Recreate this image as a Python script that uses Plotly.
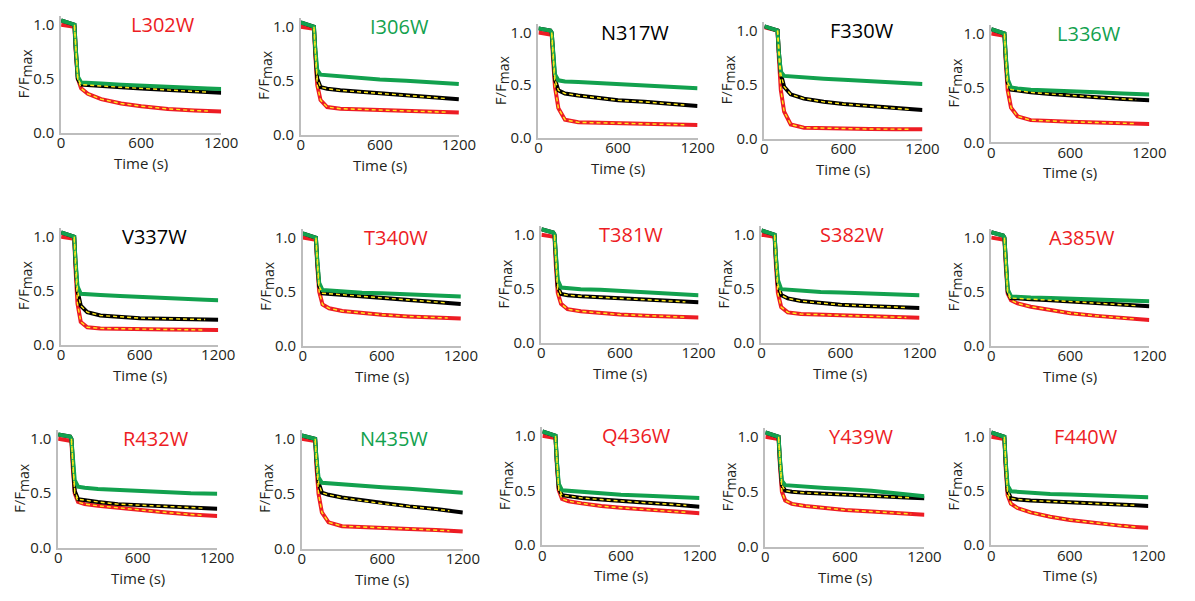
import plotly.graph_objects as go

# ---------------- data ----------------
TIME = [0, 90, 100, 110, 125, 150, 200, 300, 450, 600, 800, 1000, 1100, 1200]
MUTANTS = ["L302W", "I306W", "N317W", "F330W", "L336W",
           "V337W", "T340W", "T381W", "S382W", "A385W",
           "R432W", "N435W", "Q436W", "Y439W", "F440W"]
LABEL_CLASS = ["red", "green", "black", "black", "green",
               "black", "red", "red", "red", "red",
               "red", "green", "red", "red", "red"]

GREEN = [
    [1.04, 1.01, 1.0, 0.78, 0.52, 0.465, 0.46, 0.455, 0.445, 0.435, 0.425, 0.415, 0.41, 0.405],
    [1.04, 1.01, 1.0, 0.80, 0.60, 0.555, 0.55, 0.54, 0.525, 0.51, 0.50, 0.485, 0.475, 0.47],
    [1.04, 1.02, 1.0, 0.80, 0.60, 0.545, 0.535, 0.53, 0.52, 0.51, 0.495, 0.485, 0.478, 0.47],
    [1.04, 1.01, 1.0, 0.80, 0.62, 0.58, 0.575, 0.565, 0.555, 0.545, 0.53, 0.515, 0.51, 0.505],
    [1.04, 1.01, 1.0, 0.80, 0.58, 0.505, 0.495, 0.485, 0.475, 0.465, 0.46, 0.45, 0.445, 0.44],
    [1.04, 1.01, 1.0, 0.78, 0.54, 0.47, 0.465, 0.46, 0.45, 0.44, 0.43, 0.42, 0.415, 0.41],
    [1.04, 1.01, 1.0, 0.80, 0.58, 0.515, 0.51, 0.50, 0.49, 0.485, 0.475, 0.465, 0.46, 0.455],
    [1.05, 1.02, 1.0, 0.80, 0.58, 0.51, 0.505, 0.495, 0.49, 0.48, 0.47, 0.455, 0.447, 0.44],
    [1.04, 1.01, 1.0, 0.80, 0.58, 0.495, 0.49, 0.48, 0.47, 0.465, 0.455, 0.447, 0.443, 0.44],
    [1.05, 1.02, 1.0, 0.78, 0.52, 0.455, 0.45, 0.445, 0.44, 0.435, 0.425, 0.418, 0.413, 0.41],
    [1.04, 1.02, 1.0, 0.80, 0.62, 0.56, 0.55, 0.54, 0.53, 0.52, 0.51, 0.50, 0.498, 0.495],
    [1.03, 1.01, 1.0, 0.82, 0.65, 0.60, 0.595, 0.585, 0.57, 0.56, 0.545, 0.525, 0.517, 0.51],
    [1.04, 1.01, 1.0, 0.78, 0.56, 0.50, 0.495, 0.485, 0.47, 0.46, 0.45, 0.44, 0.435, 0.43],
    [1.04, 1.01, 1.0, 0.80, 0.60, 0.56, 0.555, 0.545, 0.535, 0.525, 0.51, 0.485, 0.47, 0.46],
    [1.04, 1.01, 1.0, 0.78, 0.55, 0.495, 0.49, 0.48, 0.47, 0.465, 0.455, 0.447, 0.443, 0.44],
]
BLACK = [
    [1.04, 1.01, 1.0, 0.77, 0.50, 0.445, 0.44, 0.43, 0.42, 0.41, 0.395, 0.38, 0.375, 0.37],
    [1.04, 1.01, 1.0, 0.78, 0.52, 0.44, 0.425, 0.41, 0.395, 0.38, 0.36, 0.345, 0.335, 0.327],
    [1.04, 1.02, 1.0, 0.78, 0.55, 0.45, 0.42, 0.40, 0.375, 0.355, 0.34, 0.32, 0.31, 0.30],
    [1.04, 1.01, 1.0, 0.80, 0.60, 0.48, 0.41, 0.37, 0.34, 0.32, 0.30, 0.28, 0.27, 0.265],
    [1.04, 1.01, 1.0, 0.78, 0.55, 0.485, 0.475, 0.46, 0.445, 0.43, 0.415, 0.40, 0.393, 0.387],
    [1.04, 1.01, 1.0, 0.76, 0.50, 0.36, 0.30, 0.27, 0.255, 0.245, 0.24, 0.235, 0.232, 0.23],
    [1.04, 1.01, 1.0, 0.78, 0.55, 0.485, 0.48, 0.47, 0.455, 0.445, 0.425, 0.405, 0.395, 0.385],
    [1.05, 1.02, 1.0, 0.78, 0.52, 0.45, 0.44, 0.43, 0.42, 0.41, 0.395, 0.385, 0.378, 0.373],
    [1.04, 1.01, 1.0, 0.78, 0.54, 0.44, 0.41, 0.385, 0.365, 0.35, 0.34, 0.33, 0.325, 0.32],
    [1.05, 1.02, 1.0, 0.77, 0.50, 0.44, 0.435, 0.43, 0.42, 0.41, 0.395, 0.38, 0.37, 0.364],
    [1.04, 1.02, 1.0, 0.77, 0.52, 0.445, 0.435, 0.42, 0.40, 0.39, 0.38, 0.37, 0.363, 0.358],
    [1.03, 1.01, 1.0, 0.80, 0.60, 0.51, 0.49, 0.465, 0.44, 0.41, 0.385, 0.36, 0.345, 0.33],
    [1.04, 1.01, 1.0, 0.77, 0.52, 0.455, 0.445, 0.43, 0.415, 0.40, 0.385, 0.37, 0.36, 0.35],
    [1.04, 1.01, 1.0, 0.78, 0.56, 0.51, 0.50, 0.49, 0.48, 0.47, 0.46, 0.45, 0.445, 0.44],
    [1.04, 1.01, 1.0, 0.76, 0.50, 0.43, 0.42, 0.41, 0.40, 0.39, 0.38, 0.37, 0.365, 0.36],
]
RED = [
    [1.0, 0.99, 0.98, 0.74, 0.50, 0.41, 0.36, 0.31, 0.27, 0.245, 0.22, 0.205, 0.20, 0.195],
    [1.0, 0.99, 0.98, 0.74, 0.46, 0.32, 0.255, 0.24, 0.235, 0.225, 0.22, 0.212, 0.208, 0.205],
    [1.0, 0.99, 0.98, 0.75, 0.48, 0.28, 0.17, 0.145, 0.14, 0.135, 0.13, 0.125, 0.122, 0.12],
    [1.03, 1.01, 1.0, 0.75, 0.45, 0.25, 0.13, 0.10, 0.095, 0.09, 0.088, 0.087, 0.086, 0.085],
    [1.0, 0.99, 0.98, 0.74, 0.48, 0.32, 0.24, 0.205, 0.195, 0.19, 0.183, 0.177, 0.173, 0.17],
    [1.0, 0.99, 0.98, 0.70, 0.38, 0.21, 0.16, 0.15, 0.145, 0.142, 0.14, 0.137, 0.135, 0.134],
    [1.0, 0.99, 0.98, 0.74, 0.50, 0.38, 0.345, 0.32, 0.30, 0.285, 0.27, 0.26, 0.255, 0.25],
    [1.0, 0.99, 0.98, 0.72, 0.46, 0.36, 0.31, 0.29, 0.275, 0.26, 0.25, 0.24, 0.236, 0.233],
    [1.0, 0.99, 0.98, 0.72, 0.46, 0.33, 0.28, 0.265, 0.258, 0.25, 0.243, 0.237, 0.233, 0.23],
    [1.0, 0.99, 0.98, 0.74, 0.48, 0.42, 0.39, 0.36, 0.33, 0.30, 0.275, 0.255, 0.245, 0.236],
    [1.0, 0.99, 0.98, 0.74, 0.50, 0.42, 0.40, 0.385, 0.365, 0.345, 0.325, 0.305, 0.297, 0.29],
    [1.0, 0.99, 0.98, 0.74, 0.50, 0.33, 0.24, 0.205, 0.195, 0.19, 0.18, 0.17, 0.163, 0.157],
    [1.0, 0.99, 0.98, 0.74, 0.50, 0.42, 0.40, 0.38, 0.355, 0.34, 0.32, 0.305, 0.298, 0.29],
    [1.0, 0.99, 0.98, 0.74, 0.50, 0.42, 0.39, 0.37, 0.35, 0.335, 0.32, 0.305, 0.298, 0.29],
    [1.0, 0.99, 0.98, 0.72, 0.46, 0.38, 0.34, 0.30, 0.26, 0.23, 0.20, 0.175, 0.165, 0.157],
]
X_TICKS = [0, 600, 1200]
X_TICK_TEXT = ["0", "600", "1200"]
Y_TICKS = [0.0, 0.5, 1.0]
Y_TICK_TEXT = ["0.0", "0.5", "1.0"]
X_TITLE = "Time (s)"
Y_TITLE = "F/F<sub><span style='font-size:14px'>max</span></sub>"

# ---------------- layout ----------------
# page pixel boxes of each panel: x at t=0, x at t=1200, y at 0.0, y at 1.0
PAGE_W, PAGE_H = 1195, 601
BODY_MARGIN = 8                       # default browser body margin around the plot div
W, H = PAGE_W - 2 * BODY_MARGIN, PAGE_H - 2 * BODY_MARGIN
BOXES = [
    (58, 221, 133, 23), (302, 463, 135, 25), (544, 706, 138, 31), (774, 935, 139, 29), (1005, 1166, 143, 32),
    (58, 218, 349, 239), (304, 465, 350, 240), (547, 707, 347, 237), (771, 932, 347, 237), (1005, 1166, 350, 240),
    (55, 217, 556, 445), (303, 467, 557, 445), (548, 708, 553, 442), (775, 937, 555, 443), (1005, 1165, 553, 443),
]
TITLE_X = [766, 753, 726, 738, 745, 712, 708, 683, 690, 686, 740, 688, 720, 720, 720]
YMAX = 1.08
COL = {"red": "#ED1C24", "green": "#12A14E", "black": "#000000"}
FIT_COLOR = "#FFE81A"
FONT = "Open Sans"
TEXT_COLOR = "#231F20"


def fx(px):
    return (px - BODY_MARGIN) / W


def fy(py):
    return 1 - (py - BODY_MARGIN) / H


fig = go.Figure()
fit_end = TIME.index(1100)
for i, name in enumerate(MUTANTS):
    n = "" if i == 0 else str(i + 1)
    xa, ya = "x" + n, "y" + n
    for vals, c in ((RED[i], COL["red"]), (BLACK[i], COL["black"]), (GREEN[i], COL["green"])):
        fig.add_trace(go.Scatter(x=TIME, y=vals, mode="lines", xaxis=xa, yaxis=ya,
                                 line=dict(color=c, width=4), showlegend=False, hoverinfo="skip"))
    for vals in (BLACK[i], RED[i]):
        fig.add_trace(go.Scatter(x=TIME[2:fit_end + 1], y=vals[2:fit_end + 1], mode="lines",
                                 xaxis=xa, yaxis=ya, showlegend=False, hoverinfo="skip",
                                 line=dict(color=FIT_COLOR, width=1.4, dash="4px,3px")))

    x0, x1, y0, y1 = BOXES[i]
    ytop = y0 - YMAX * (y0 - y1)
    axis_common = dict(showgrid=False, zeroline=False, showline=True, linecolor="#BDBDBD",
                       linewidth=1.5, ticks="", tickfont=dict(family=FONT, size=15, color=TEXT_COLOR),
                       fixedrange=True)
    fig.layout["xaxis" + n] = dict(axis_common, domain=[fx(x0), fx(x1)], range=[0, 1200],
                                   anchor=ya, tickvals=X_TICKS, ticktext=X_TICK_TEXT,
                                   ticklabelstandoff=-4)
    fig.layout["yaxis" + n] = dict(axis_common, domain=[fy(y0), fy(ytop)], range=[0, YMAX],
                                   anchor=xa, tickvals=Y_TICKS, ticktext=Y_TICK_TEXT,
                                   ticklabelstandoff=2)
    # axis titles
    fig.add_annotation(x=0.5, y=0, xref=xa + " domain", yref=ya + " domain", text=X_TITLE,
                       showarrow=False, xanchor="center", yanchor="middle", yshift=-30,
                       font=dict(family=FONT, size=15, color=TEXT_COLOR))
    fig.add_annotation(x=0, y=0.55, xref=xa + " domain", yref=ya, text=Y_TITLE, textangle=-90,
                       showarrow=False, xanchor="center", yanchor="middle", xshift=-37,
                       font=dict(family=FONT, size=15, color=TEXT_COLOR))
    # panel label
    fig.add_annotation(x=TITLE_X[i], y=1.0, xref=xa, yref=ya, text=name, showarrow=False,
                       xanchor="center", yanchor="middle",
                       font=dict(family=FONT, size=20, color=COL[LABEL_CLASS[i]]))

fig.update_layout(width=W, height=H, margin=dict(l=0, r=0, t=0, b=0),
                  paper_bgcolor="white", plot_bgcolor="white")
fig.write_html("out.html")
